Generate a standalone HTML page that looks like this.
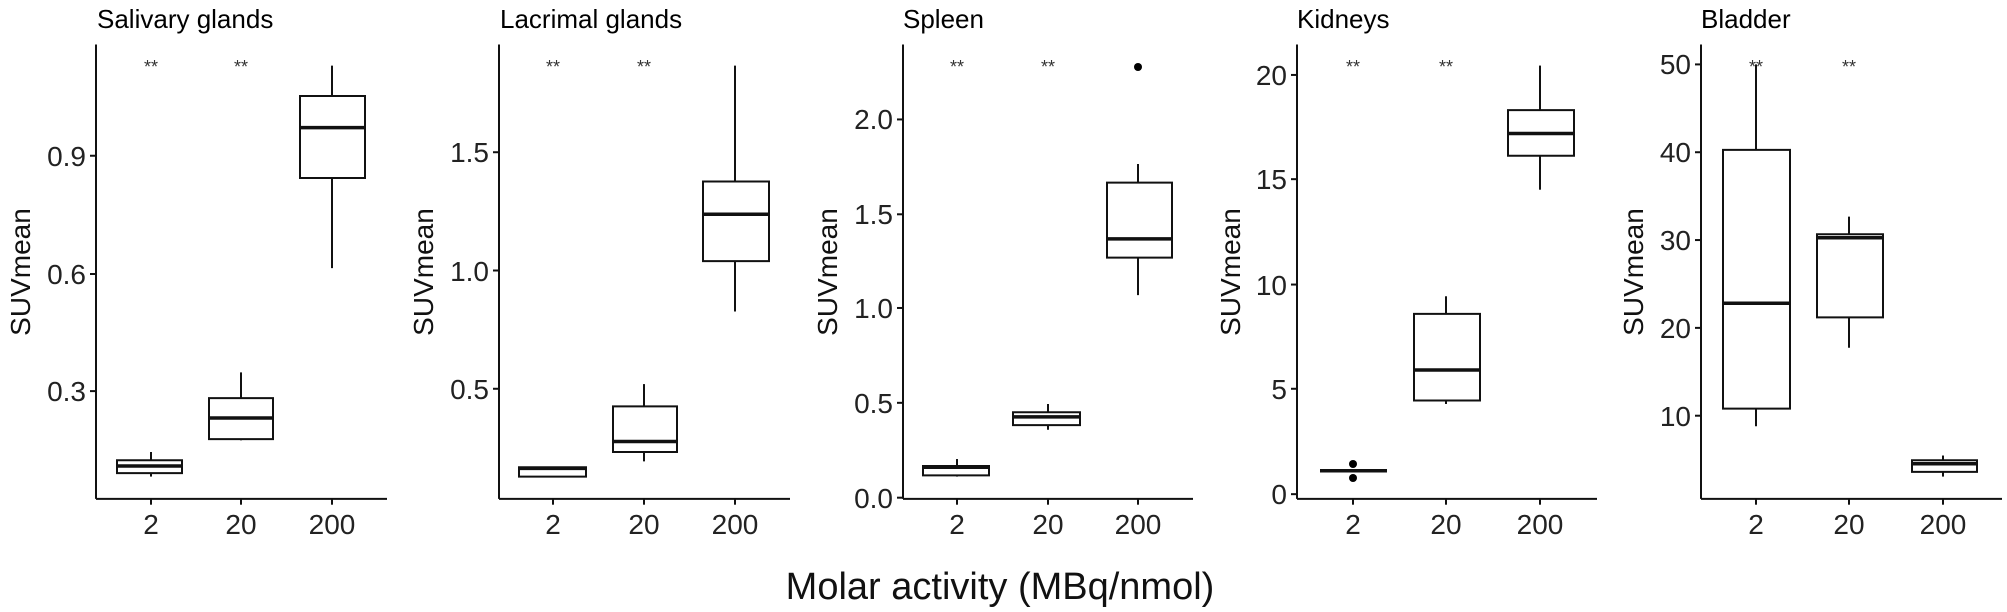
<!DOCTYPE html>
<html><head><meta charset="utf-8"><style>
html,body{margin:0;padding:0;background:#fff;}
svg{display:block;font-family:"Liberation Sans",Arial,sans-serif;}
.t{font-size:26px;fill:#000;}
.tk{font-size:28px;fill:#222;}
.yl{font-size:28px;fill:#111;}
.st{font-size:18px;fill:#333;}
line,rect{stroke:#111;stroke-width:2;fill:none;vector-effect:non-scaling-stroke;}
rect{fill:#fff;}
.m{stroke-width:3.5;}
</style></head><body>
<svg width="2007" height="612" viewBox="0 0 2007 612">
<g transform="scale(1,1.171)">
<!-- Panel 1 -->
<line x1="96" y1="38" x2="96" y2="426"/><line x1="96" y1="426" x2="387" y2="426"/>
<line x1="151" y1="426" x2="151" y2="431"/><line x1="241" y1="426" x2="241" y2="431"/><line x1="332" y1="426" x2="332" y2="431"/>
<line x1="90" y1="133" x2="96" y2="133"/><line x1="90" y1="234" x2="96" y2="234"/><line x1="90" y1="334" x2="96" y2="334"/>
<line x1="151" y1="386" x2="151" y2="407"/><rect x="117" y="393" width="65" height="11"/><line class="m" x1="117" y1="398" x2="182" y2="398"/>
<line x1="241" y1="318" x2="241" y2="376"/><rect x="209" y="340" width="64" height="35"/><line class="m" x1="209" y1="357" x2="273" y2="357"/>
<line x1="332" y1="56" x2="332" y2="229"/><rect x="300" y="82" width="65" height="70"/><line class="m" x1="300" y1="109" x2="365" y2="109"/>
<!-- Panel 2 -->
<line x1="499" y1="38" x2="499" y2="426"/><line x1="499" y1="426" x2="790" y2="426"/>
<line x1="553" y1="426" x2="553" y2="431"/><line x1="644" y1="426" x2="644" y2="431"/><line x1="735" y1="426" x2="735" y2="431"/>
<line x1="493" y1="130" x2="499" y2="130"/><line x1="493" y1="231" x2="499" y2="231"/><line x1="493" y1="332" x2="499" y2="332"/>
<rect x="519" y="399" width="67" height="8"/><line class="m" x1="519" y1="400" x2="586" y2="400"/>
<line x1="644" y1="328" x2="644" y2="394"/><rect x="613" y="347" width="64" height="39"/><line class="m" x1="613" y1="377" x2="677" y2="377"/>
<line x1="735" y1="56" x2="735" y2="266"/><rect x="703" y="155" width="66" height="68"/><line class="m" x1="703" y1="183" x2="769" y2="183"/>
<!-- Panel 3 -->
<line x1="903" y1="38" x2="903" y2="426"/><line x1="903" y1="426" x2="1193" y2="426"/>
<line x1="957" y1="426" x2="957" y2="431"/><line x1="1048" y1="426" x2="1048" y2="431"/><line x1="1138" y1="426" x2="1138" y2="431"/>
<line x1="897" y1="102" x2="903" y2="102"/><line x1="897" y1="183" x2="903" y2="183"/><line x1="897" y1="263" x2="903" y2="263"/><line x1="897" y1="344" x2="903" y2="344"/><line x1="897" y1="425" x2="903" y2="425"/>
<line x1="957" y1="392" x2="957" y2="407"/><rect x="923" y="398" width="66" height="8"/><line class="m" x1="923" y1="399" x2="989" y2="399"/>
<line x1="1048" y1="345" x2="1048" y2="367"/><rect x="1013" y="352" width="67" height="11"/><line class="m" x1="1013" y1="356" x2="1080" y2="356"/>
<line x1="1138" y1="140" x2="1138" y2="252"/><rect x="1107" y="156" width="65" height="64"/><line class="m" x1="1107" y1="204" x2="1172" y2="204"/>
<!-- Panel 4 -->
<line x1="1297" y1="38" x2="1297" y2="426"/><line x1="1297" y1="426" x2="1597" y2="426"/>
<line x1="1353" y1="426" x2="1353" y2="431"/><line x1="1446" y1="426" x2="1446" y2="431"/><line x1="1540" y1="426" x2="1540" y2="431"/>
<line x1="1291" y1="64" x2="1297" y2="64"/><line x1="1291" y1="153" x2="1297" y2="153"/><line x1="1291" y1="243" x2="1297" y2="243"/><line x1="1291" y1="332" x2="1297" y2="332"/><line x1="1291" y1="422" x2="1297" y2="422"/>
<line class="m" x1="1320" y1="402" x2="1387" y2="402"/>
<line x1="1446" y1="253" x2="1446" y2="345"/><rect x="1414" y="268" width="66" height="74"/><line class="m" x1="1414" y1="316" x2="1480" y2="316"/>
<line x1="1540" y1="56" x2="1540" y2="162"/><rect x="1508" y="94" width="66" height="39"/><line class="m" x1="1508" y1="114" x2="1574" y2="114"/>
<!-- Panel 5 -->
<line x1="1701" y1="38" x2="1701" y2="426"/><line x1="1701" y1="426" x2="2002" y2="426"/>
<line x1="1756" y1="426" x2="1756" y2="431"/><line x1="1849" y1="426" x2="1849" y2="431"/><line x1="1943" y1="426" x2="1943" y2="431"/>
<line x1="1695" y1="55" x2="1701" y2="55"/><line x1="1695" y1="130" x2="1701" y2="130"/><line x1="1695" y1="205" x2="1701" y2="205"/><line x1="1695" y1="280" x2="1701" y2="280"/><line x1="1695" y1="355" x2="1701" y2="355"/>
<line x1="1756" y1="55" x2="1756" y2="364"/><rect x="1723" y="128" width="67" height="221"/><line class="m" x1="1723" y1="259" x2="1790" y2="259"/>
<line x1="1849" y1="185" x2="1849" y2="297"/><rect x="1817" y="200" width="66" height="71"/><line class="m" x1="1817" y1="203" x2="1883" y2="203"/>
<line x1="1943" y1="389" x2="1943" y2="407"/><rect x="1912" y="393" width="65" height="10"/><line class="m" x1="1912" y1="396" x2="1977" y2="396"/>
</g>
<circle cx="1138" cy="67" r="4" fill="#000"/>
<circle cx="1353" cy="464" r="4" fill="#000"/><circle cx="1353" cy="478" r="4" fill="#000"/>

<g class="t">
<text x="97" y="28">Salivary glands</text><text x="500" y="28">Lacrimal glands</text><text x="903" y="28">Spleen</text><text x="1297" y="28">Kidneys</text><text x="1701" y="28">Bladder</text>
</g>
<g class="st" text-anchor="middle">
<text x="151" y="73">**</text><text x="241" y="73">**</text>
<text x="553" y="73">**</text><text x="644" y="73">**</text>
<text x="957" y="73">**</text><text x="1048" y="73">**</text>
<text x="1353" y="73">**</text><text x="1446" y="73">**</text>
<text x="1756" y="73">**</text><text x="1849" y="73">**</text>
</g>
<g class="tk" text-anchor="end">
<text x="86" y="166">0.9</text><text x="86" y="284">0.6</text><text x="86" y="401">0.3</text>
<text x="489" y="162">1.5</text><text x="489" y="281">1.0</text><text x="489" y="399">0.5</text>
<text x="893" y="129">2.0</text><text x="893" y="224">1.5</text><text x="893" y="318">1.0</text><text x="893" y="413">0.5</text><text x="893" y="508">0.0</text>
<text x="1287" y="85">20</text><text x="1287" y="189">15</text><text x="1287" y="295">10</text><text x="1287" y="399">5</text><text x="1287" y="504">0</text>
<text x="1691" y="74">50</text><text x="1691" y="162">40</text><text x="1691" y="250">30</text><text x="1691" y="338">20</text><text x="1691" y="426">10</text>
</g>
<g class="tk" text-anchor="middle">
<text x="151" y="534">2</text><text x="241" y="534">20</text><text x="332" y="534">200</text>
<text x="553" y="534">2</text><text x="644" y="534">20</text><text x="735" y="534">200</text>
<text x="957" y="534">2</text><text x="1048" y="534">20</text><text x="1138" y="534">200</text>
<text x="1353" y="534">2</text><text x="1446" y="534">20</text><text x="1540" y="534">200</text>
<text x="1756" y="534">2</text><text x="1849" y="534">20</text><text x="1943" y="534">200</text>
</g>
<g class="yl" text-anchor="middle">
<text transform="translate(30,272) rotate(-90)">SUVmean</text>
<text transform="translate(433,272) rotate(-90)">SUVmean</text>
<text transform="translate(837,272) rotate(-90)">SUVmean</text>
<text transform="translate(1240,272) rotate(-90)">SUVmean</text>
<text transform="translate(1643,272) rotate(-90)">SUVmean</text>
</g>
<text x="1000" y="599" text-anchor="middle" style="font-size:38px;fill:#111">Molar activity (MBq/nmol)</text>
</svg>
</body></html>
